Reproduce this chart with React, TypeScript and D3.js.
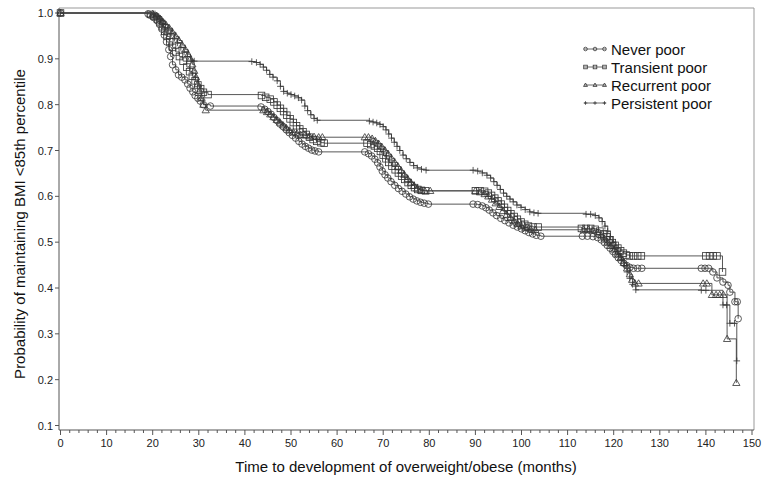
import React from 'react'
import * as d3 from 'd3'

// Kaplan-Meier step points [months, survival]
const neverPoor: [number, number][] = [
  [0, 1.0], [19, 0.998], [19.5, 0.995], [20.2, 0.99], [21, 0.983], [21.5, 0.975], [22, 0.965], [22.5, 0.952],
  [23, 0.937], [23.5, 0.92], [23.9, 0.905], [24.3, 0.887], [25, 0.876], [25.6, 0.865], [26.3, 0.86], [27, 0.854],
  [27.6, 0.845], [28.1, 0.836], [28.7, 0.828], [29.2, 0.82], [29.8, 0.814], [30.3, 0.808], [31, 0.8], [32.5, 0.797],
  [43.5, 0.795], [44.3, 0.79], [45, 0.785], [45.7, 0.779], [46.3, 0.772], [47, 0.765], [47.6, 0.758], [48.3, 0.752],
  [49, 0.745], [49.6, 0.739], [50.3, 0.733], [51, 0.727], [51.7, 0.72], [52.4, 0.714], [53.1, 0.709], [53.8, 0.705],
  [54.5, 0.701], [55.2, 0.699], [56, 0.697],
  [66, 0.697], [66.8, 0.693], [67.5, 0.688], [68.2, 0.681], [68.8, 0.673], [69.3, 0.664], [69.8, 0.655], [70.4, 0.647],
  [71, 0.64], [71.7, 0.632], [72.5, 0.624], [73.3, 0.617], [74.1, 0.611], [74.9, 0.605], [75.7, 0.599], [76.5, 0.594],
  [77.3, 0.59], [78.1, 0.587], [78.9, 0.585], [79.8, 0.583],
  [89.5, 0.583], [90.5, 0.582], [91.5, 0.579], [92.3, 0.575], [93, 0.57], [93.8, 0.564], [94.6, 0.558], [95.5, 0.552],
  [96.4, 0.547], [97.3, 0.542], [98.2, 0.537], [99.1, 0.533], [100, 0.529], [100.8, 0.525], [101.6, 0.521],
  [102.4, 0.518], [103.2, 0.515], [104.2, 0.513],
  [113.2, 0.513], [114.3, 0.513], [115.5, 0.512], [116.5, 0.51], [117.3, 0.505], [118, 0.499], [118.6, 0.493],
  [119.2, 0.487], [119.8, 0.48], [120.4, 0.473], [121, 0.466], [121.6, 0.46], [122.2, 0.454], [122.8, 0.449],
  [123.5, 0.445], [124.3, 0.443], [125.2, 0.443], [126.1, 0.443],
  [139, 0.443], [139.8, 0.443], [140.6, 0.443], [141.5, 0.435], [142.4, 0.422], [143.7, 0.413], [144.8, 0.406],
  [145.2, 0.391], [146.3, 0.37], [146.8, 0.37], [147, 0.333],
]

const transientPoor: [number, number][] = [
  [0, 1.0], [19.5, 0.997], [20.3, 0.993], [21, 0.987], [21.6, 0.979], [22.1, 0.97], [22.6, 0.96], [23.1, 0.949],
  [23.7, 0.937], [24.3, 0.925], [25, 0.915], [25.8, 0.905], [26.6, 0.895], [27.4, 0.882], [28, 0.872], [28.6, 0.862],
  [29.2, 0.852], [29.8, 0.843], [30.4, 0.835], [31, 0.827], [32, 0.822],
  [43.6, 0.82], [44.5, 0.816], [45.5, 0.812], [46.3, 0.806], [47, 0.799], [47.7, 0.792], [48.4, 0.785], [49.1, 0.777],
  [49.8, 0.769], [50.5, 0.761], [51.2, 0.754], [51.9, 0.747], [52.6, 0.741], [53.3, 0.735], [54, 0.729], [54.8, 0.724],
  [55.6, 0.72], [56.5, 0.717], [57.2, 0.716],
  [66.5, 0.716], [67.3, 0.713], [68.1, 0.71], [68.8, 0.705], [69.4, 0.698], [70, 0.69], [70.6, 0.682], [71.2, 0.674],
  [71.9, 0.666], [72.6, 0.658], [73.3, 0.651], [74, 0.644], [74.7, 0.637], [75.4, 0.63], [76.1, 0.624], [76.8, 0.619],
  [77.5, 0.615], [78.3, 0.613], [79.2, 0.612],
  [90, 0.612], [91, 0.612], [92, 0.611], [92.8, 0.607], [93.5, 0.602], [94.2, 0.596], [94.9, 0.59], [95.6, 0.583],
  [96.3, 0.576], [97, 0.569], [97.7, 0.562], [98.4, 0.556], [99.1, 0.55], [99.9, 0.544], [100.7, 0.539],
  [101.5, 0.535], [102.5, 0.533], [103.6, 0.533],
  [113, 0.53], [114, 0.53], [115, 0.53], [116, 0.528], [117, 0.524], [117.8, 0.518], [118.5, 0.512], [119.1, 0.505],
  [119.7, 0.499], [120.3, 0.493], [120.9, 0.487], [121.5, 0.481], [122.1, 0.476], [122.7, 0.472], [123.4, 0.47],
  [124.3, 0.47], [125.2, 0.47], [126, 0.47],
  [140, 0.47], [140.8, 0.47], [141.6, 0.47], [142.4, 0.47], [143.6, 0.435],
]

const recurrentPoor: [number, number][] = [
  [0, 1.0], [20, 0.998], [20.8, 0.994], [21.5, 0.988], [22.2, 0.981], [22.9, 0.974], [23.6, 0.967], [24.3, 0.958],
  [25, 0.949], [25.7, 0.94], [26.4, 0.93], [27.1, 0.92], [27.7, 0.91], [28.2, 0.9], [28.6, 0.888], [29, 0.874],
  [29.4, 0.86], [29.8, 0.845], [30.2, 0.83], [30.6, 0.815], [31, 0.8], [31.5, 0.788],
  [44, 0.788], [44.8, 0.784], [45.5, 0.779], [46.2, 0.773], [46.9, 0.767], [47.6, 0.761], [48.3, 0.755], [49, 0.749],
  [49.7, 0.744], [50.5, 0.74], [51.3, 0.737], [52.1, 0.734], [53, 0.733], [54, 0.731], [55, 0.73], [56, 0.729],
  [56.8, 0.729],
  [66, 0.729], [66.8, 0.729], [67.6, 0.726], [68.3, 0.721], [69, 0.715], [69.7, 0.708], [70.4, 0.7], [71.1, 0.692],
  [71.8, 0.683], [72.5, 0.674], [73.2, 0.665], [73.9, 0.656], [74.6, 0.647], [75.3, 0.638], [76, 0.63], [76.7, 0.623],
  [77.4, 0.617], [78.2, 0.613], [79, 0.612], [80.2, 0.612],
  [90, 0.612], [91, 0.609], [92, 0.605], [92.8, 0.6], [93.6, 0.593], [94.4, 0.585], [95.2, 0.577], [96, 0.568],
  [96.8, 0.56], [97.6, 0.553], [98.4, 0.546], [99.2, 0.54], [100, 0.535], [101, 0.531], [102, 0.528], [103, 0.527],
  [113.5, 0.527], [114.5, 0.527], [115.5, 0.525], [116.5, 0.521], [117.3, 0.515], [118, 0.508], [118.7, 0.5],
  [119.4, 0.492], [120.1, 0.484], [120.8, 0.475], [121.5, 0.466], [122.2, 0.455], [122.9, 0.443], [123.5, 0.43],
  [124, 0.418], [124.6, 0.41], [125.4, 0.41],
  [139.4, 0.41], [140.2, 0.41], [141.3, 0.385], [142.2, 0.385], [143, 0.385], [143.8, 0.385], [144.6, 0.289],
  [146.6, 0.193],
]

const persistentPoor: [number, number][] = [
  [0, 1.0], [20.5, 0.998], [21.3, 0.992], [22, 0.984], [22.7, 0.975], [23.3, 0.965], [24, 0.955], [24.7, 0.945],
  [25.4, 0.935], [26.1, 0.925], [26.8, 0.915], [27.5, 0.905], [28.3, 0.897], [29, 0.895],
  [41.5, 0.894], [42.5, 0.892], [43.3, 0.888], [44, 0.882], [44.7, 0.875], [45.4, 0.866], [46.1, 0.86], [47, 0.852],
  [47.7, 0.84], [48.4, 0.829], [49.2, 0.825], [50, 0.822], [50.8, 0.819], [51.6, 0.815], [52.3, 0.81], [53, 0.797],
  [53.6, 0.787], [54.3, 0.778], [55, 0.77], [55.7, 0.766],
  [67, 0.764], [67.8, 0.762], [68.6, 0.76], [69.3, 0.757], [70, 0.752], [70.6, 0.745], [71.2, 0.736], [71.8, 0.727],
  [72.4, 0.718], [73, 0.709], [73.6, 0.7], [74.3, 0.69], [75, 0.682], [75.8, 0.674], [76.6, 0.667], [77.4, 0.662],
  [78.3, 0.659], [79.3, 0.657],
  [89.5, 0.657], [90.5, 0.655], [91.5, 0.651], [92.5, 0.646], [93.3, 0.64], [94, 0.632], [94.7, 0.624], [95.4, 0.615],
  [96.1, 0.607], [96.8, 0.6], [97.5, 0.594], [98.2, 0.588], [99, 0.581], [99.9, 0.576], [100.8, 0.571],
  [101.8, 0.566], [102.7, 0.564], [103.6, 0.563],
  [114, 0.561], [115, 0.561], [116, 0.558], [116.8, 0.553], [117.5, 0.545], [118.1, 0.535], [118.7, 0.524],
  [119.3, 0.512], [119.9, 0.5], [120.5, 0.488], [121.1, 0.475], [121.7, 0.462], [122.3, 0.449], [122.9, 0.435],
  [123.5, 0.421], [124.1, 0.408], [124.8, 0.396],
  [139, 0.395], [140, 0.395], [143.7, 0.363], [144.5, 0.363], [145.2, 0.323], [146.2, 0.323], [146.7, 0.241],
]

const seriesNames = ['Never poor', 'Transient poor', 'Recurrent poor', 'Persistent poor']
const seriesData = [neverPoor, transientPoor, recurrentPoor, persistentPoor]
const markerKinds = ['circle', 'square', 'triangle', 'plus']

const xTicks = d3.range(0, 151, 10)
const xMinor = d3.range(0, 151, 2)
const yTicks = [0.1, 0.2, 0.3, 0.4, 0.5, 0.6, 0.7, 0.8, 0.9, 1.0]

const font = 'Arial, "Liberation Sans", sans-serif'
const ink = '#333'

const Marker = ({ kind, x, y, s }: { kind: string; x: number; y: number; s: number }) => {
  const props = { fill: 'none', stroke: ink, strokeWidth: 0.8 }
  if (kind === 'circle') return <circle cx={x} cy={y} r={s} {...props} />
  if (kind === 'square') return <rect x={x - s} y={y - s} width={2 * s} height={2 * s} {...props} />
  if (kind === 'triangle')
    return <path d={`M${x},${y - s * 1.1}L${x + s * 1.1},${y + s * 0.8}L${x - s * 1.1},${y + s * 0.8}Z`} {...props} />
  return <path d={`M${x - s},${y}H${x + s}M${x},${y - s}V${y + s}`} {...props} />
}

export default function App() {
  const xScale = d3.scaleLinear().domain([0, 150]).range([60.5, 752])
  const yScale = d3.scaleLinear().domain([0.1, 1.0]).range([425.5, 13])
  const left = 59
  const right = 754
  const top = 8
  const bottom = 430

  const stepPath = (pts: [number, number][]) => {
    let d = `M${xScale(pts[0][0])},${yScale(pts[0][1])}`
    for (let i = 1; i < pts.length; i++) {
      d += `H${xScale(pts[i][0])}V${yScale(pts[i][1])}`
    }
    return d
  }

  return (
    <svg width={764} height={480} style={{ position: 'absolute', left: 0, top: 0, background: '#fff' }}>
      {/* frame */}
      <line x1={left} x2={right} y1={top} y2={top} stroke="#999" strokeWidth={1} />
      <line x1={right} x2={right} y1={top} y2={bottom} stroke="#999" strokeWidth={1} />
      <line x1={left} x2={left} y1={top} y2={bottom} stroke="#555" strokeWidth={1} />
      <line x1={left} x2={right} y1={bottom} y2={bottom} stroke="#555" strokeWidth={1} />

      {/* x axis */}
      {xMinor.map(t => (
        <line key={'m' + t} x1={xScale(t)} x2={xScale(t)} y1={bottom} y2={bottom + (t % 10 === 0 ? 5 : 3)} stroke="#555" />
      ))}
      {xTicks.map(t => (
        <text key={'x' + t} x={xScale(t)} y={447} fontSize={11} fontFamily={font} textAnchor="middle" fill="#222">
          {t}
        </text>
      ))}
      {/* y axis */}
      {yTicks.map(v => (
        <g key={'y' + v}>
          <line x1={left - 4} x2={left} y1={yScale(v)} y2={yScale(v)} stroke="#555" />
          <text x={left - 6} y={yScale(v) + 4} fontSize={11} fontFamily={font} textAnchor="end" fill="#222">
            {d3.format('.1f')(v)}
          </text>
        </g>
      ))}

      <text x={406} y={472} fontSize={15} fontFamily={font} textAnchor="middle" fill="#111">
        Time to development of overweight/obese (months)
      </text>
      <text
        transform="translate(25,224) rotate(-90)"
        fontSize={15}
        fontFamily={font}
        textAnchor="middle"
        fill="#111"
      >
        Probability of maintaining BMI &lt;85th percentile
      </text>

      {/* curves */}
      {seriesData.map((pts, i) => (
        <g key={seriesNames[i]}>
          <path d={stepPath(pts)} fill="none" stroke="#444" strokeWidth={0.9} />
          {pts.map((p, j) => (
            <Marker key={j} kind={markerKinds[i]} x={xScale(p[0])} y={yScale(p[1])} s={3.3} />
          ))}
        </g>
      ))}

      {/* legend */}
      {seriesNames.map((name, i) => {
        const yy = 49 + i * 18
        return (
          <g key={'lg' + name}>
            <line x1={584} x2={606} y1={yy} y2={yy} stroke="#444" strokeWidth={0.8} />
            {[585.5, 595, 604.5].map(mx => (
              <Marker key={mx} kind={markerKinds[i]} x={mx} y={yy} s={1.8} />
            ))}
            <text x={611} y={yy + 5.5} fontSize={15} fontFamily={font} fill="#111">
              {name}
            </text>
          </g>
        )
      })}
    </svg>
  )
}
